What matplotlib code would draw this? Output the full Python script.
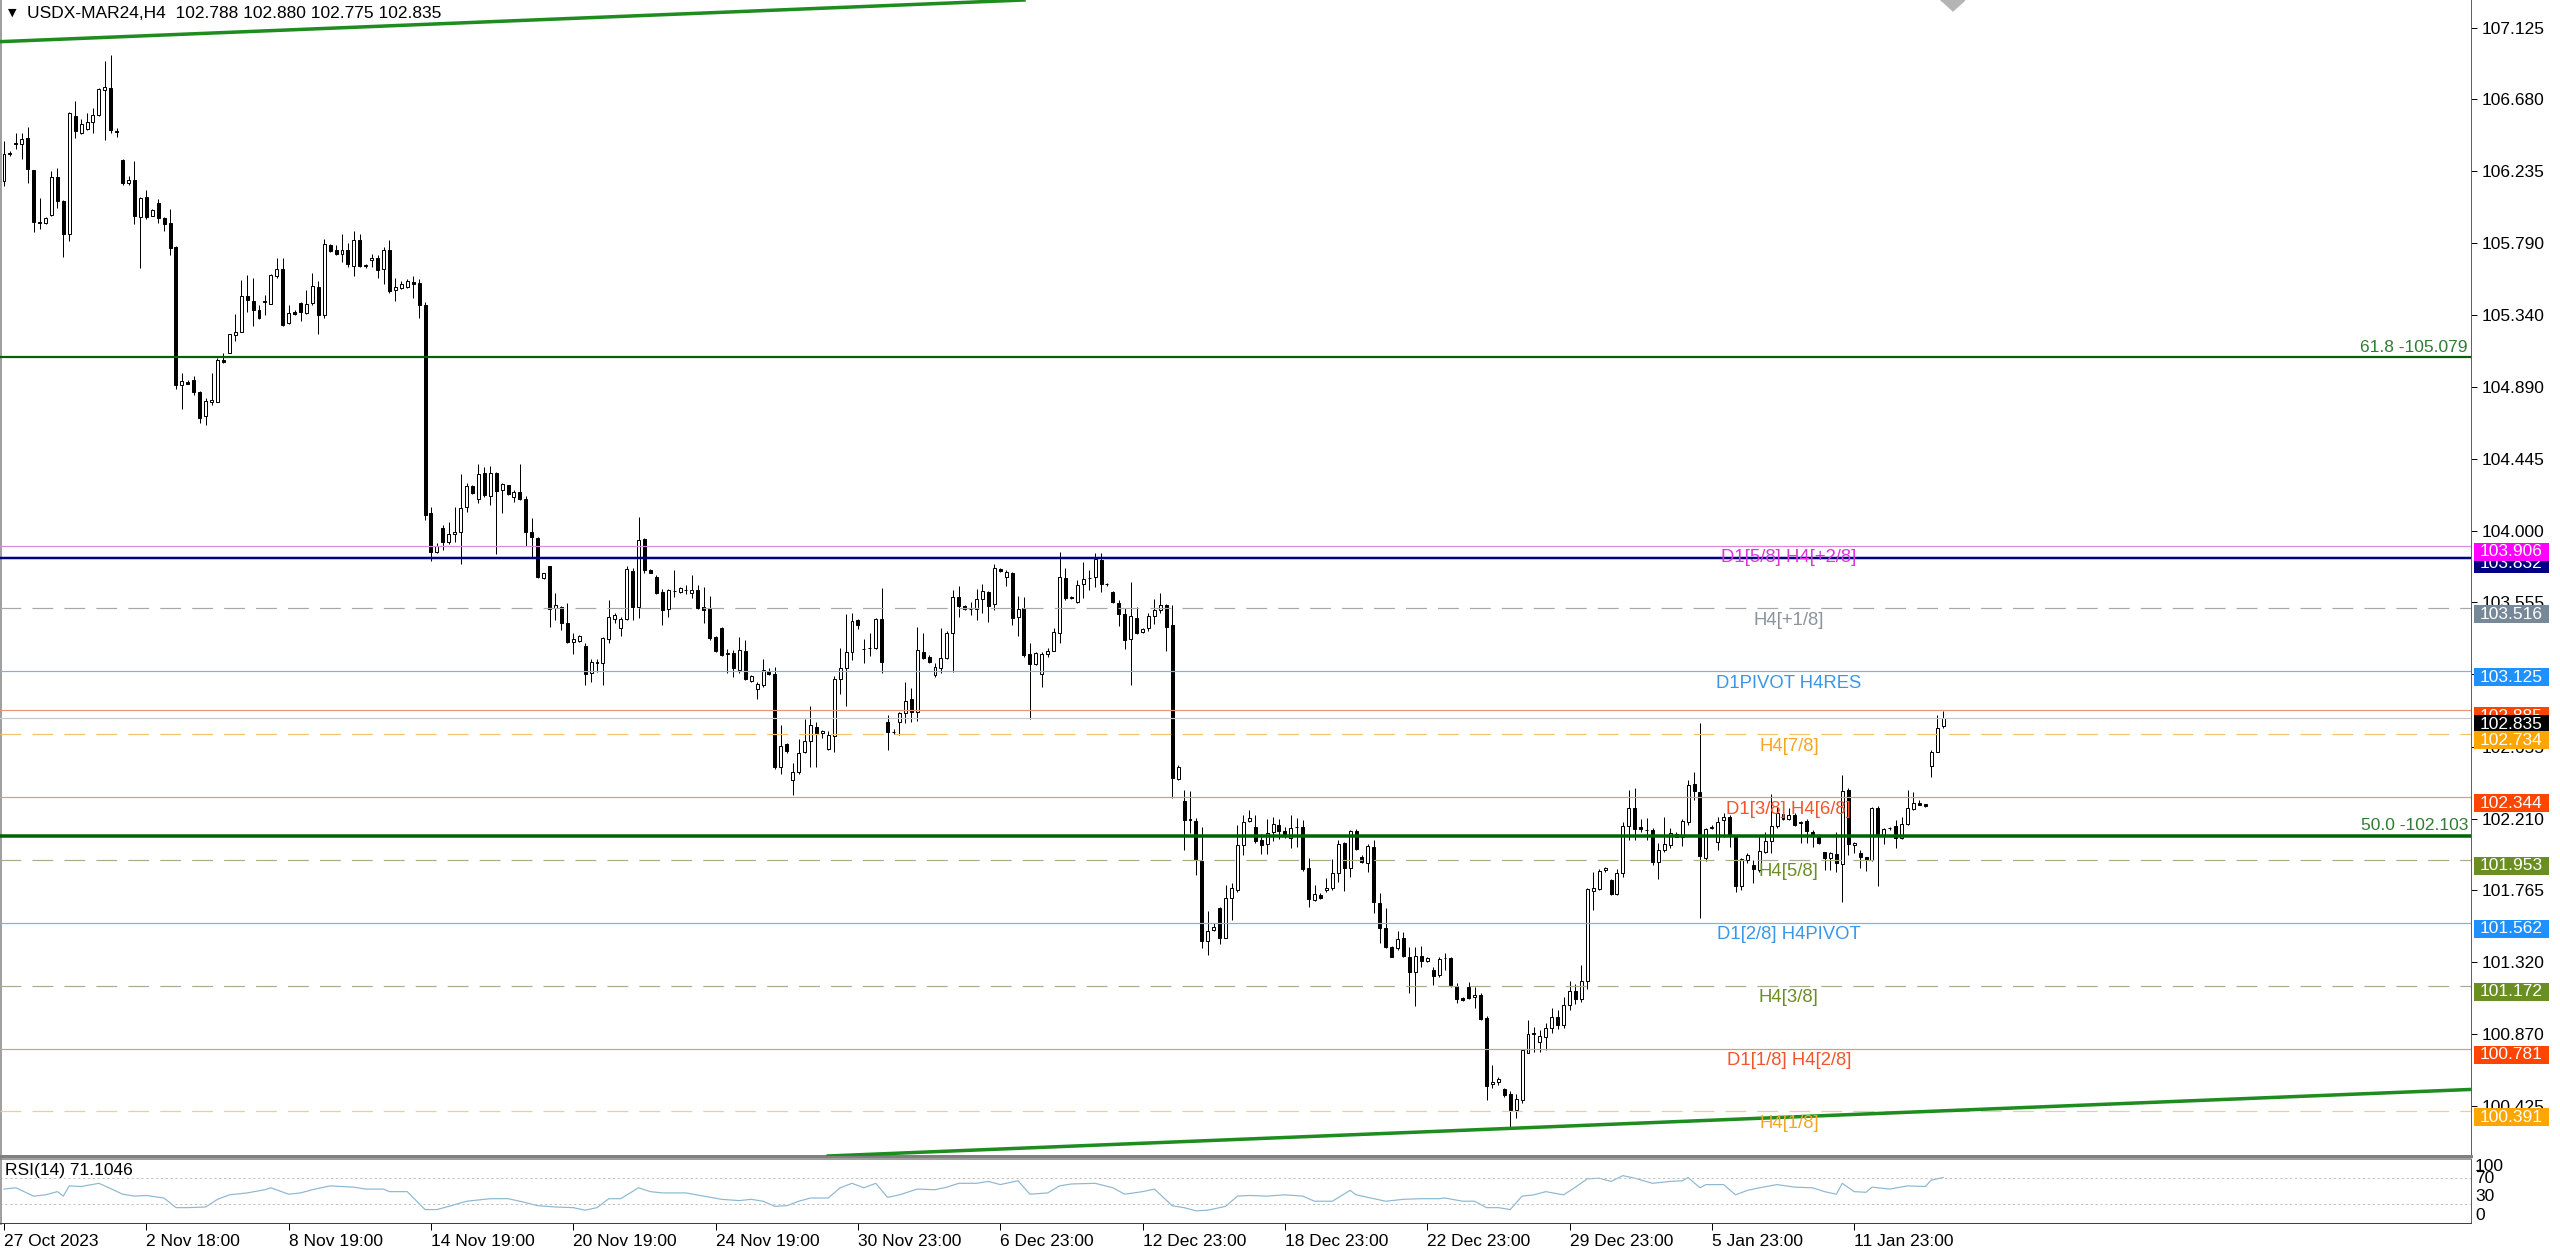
import numpy as np
import matplotlib
matplotlib.use("Agg")
import matplotlib.pyplot as plt
from matplotlib.transforms import blended_transform_factory, IdentityTransform, ScaledTranslation

plt.rcParams['font.family'] = ['Liberation Sans', 'DejaVu Sans']
plt.rcParams['lines.scale_dashes'] = False

# ------------------------------------------------------------------ data
symbol = "USDX-MAR24,H4"

opens = [
106.17,106.34,106.41,106.40,106.44,106.24,105.92,105.91,105.96,106.20,
106.05,105.845,106.58,106.471,106.499,106.540,106.582,106.739,106.754,106.486,
106.306,106.161,106.182,105.947,106.071,105.958,106.039,105.94,105.91,105.761,
104.903,104.924,104.935,104.862,104.71,104.802,104.802,105.059,105.106,105.213,
105.236,105.459,105.427,105.373,105.427,105.41,105.583,105.626,105.288,105.358,
105.412,105.352,105.412,105.515,105.343,105.776,105.744,105.722,105.744,105.647,
105.808,105.654,105.679,105.697,105.626,105.744,105.495,105.508,105.512,105.545,
105.54,105.401,104.107,103.865,104.014,103.931,103.979,103.989,104.145,104.277,
104.197,104.356,104.217,104.356,104.252,104.284,104.211,104.238,104.197,103.989,
103.956,103.704,103.781,103.517,103.528,103.424,103.306,103.317,103.285,103.113,
103.185,103.179,103.324,103.451,103.393,103.451,103.749,103.527,103.946,103.755,
103.714,103.621,103.513,103.627,103.621,103.632,103.61,103.631,103.527,103.517,
103.341,103.393,103.235,103.237,103.134,103.254,103.067,103.014,103.041,103.13,
103.109,102.529,102.674,102.45,102.502,102.626,102.695,102.782,102.74,102.643,
102.726,103.076,103.144,103.248,103.444,103.262,103.273,103.273,103.449,102.813,
102.75,102.809,102.864,102.954,102.875,103.248,103.217,103.103,103.148,103.206,
103.362,103.586,103.531,103.513,103.511,103.573,103.621,103.542,103.762,103.714,
103.739,103.461,103.517,103.233,103.171,103.109,103.233,103.254,103.362,103.704,
103.579,103.554,103.666,103.704,103.71,103.817,103.666,103.617,103.552,103.482,
103.324,103.459,103.368,103.393,103.471,103.507,103.538,103.413,102.456,102.322,
102.21,102.195,101.947,101.451,101.518,101.653,101.47,101.715,101.766,102.046,
102.197,102.156,102.077,102.052,102.129,102.17,102.135,102.087,102.156,102.16,
101.901,101.704,101.735,101.766,101.776,101.87,102.056,101.901,102.135,101.969,
101.936,102.031,101.683,101.528,101.414,101.408,101.47,101.352,101.254,101.358,
101.327,101.269,101.238,101.346,101.346,101.171,101.093,101.165,101.099,101.113,
100.973,100.558,100.571,100.527,100.50,100.40,100.46,100.755,100.875,100.824,
100.854,100.91,100.98,100.93,101.05,101.14,101.09,101.20,101.76,101.77,
101.891,101.828,101.741,101.874,102.164,102.278,102.156,102.139,102.139,101.942,
102.015,102.046,102.098,102.093,102.191,102.425,102.377,101.963,102.149,102.067,
102.201,102.218,102.102,101.791,101.953,101.922,101.89,102.004,102.071,102.166,
102.237,102.205,102.232,102.181,102.197,102.129,102.108,102.0,101.963,101.99,
101.928,102.388,102.046,101.994,101.969,101.953,102.278,102.108,102.154,102.164,
102.091,102.174,102.268,102.309,102.299,102.54,102.626,102.788]

highs = [
106.42,106.36,106.47,106.47,106.51,106.24,106.07,105.95,106.236,106.253,
106.055,106.60,106.668,106.557,106.595,106.625,106.749,106.921,106.959,106.50,
106.311,106.204,106.30,106.075,106.118,106.0,106.06,105.947,106.0,105.769,
104.978,104.935,104.963,104.866,104.823,104.978,105.07,105.102,105.224,105.348,
105.555,105.587,105.572,105.401,105.465,105.594,105.694,105.697,105.401,105.373,
105.423,105.497,105.604,105.551,105.812,105.782,105.776,105.846,105.786,105.861,
105.844,105.658,105.718,105.712,105.765,105.804,105.572,105.551,105.562,105.583,
105.562,105.423,104.145,103.921,104.035,104.056,104.145,104.35,104.294,104.284,
104.412,104.397,104.401,104.362,104.298,104.284,104.252,104.412,104.215,104.08,
103.958,103.739,103.783,103.61,103.534,103.552,103.362,103.352,103.304,103.202,
103.20,103.337,103.569,103.49,103.465,103.781,103.766,104.087,103.952,103.76,
103.724,103.635,103.635,103.755,103.652,103.662,103.724,103.662,103.648,103.594,
103.345,103.403,103.262,103.258,103.341,103.32,103.103,103.061,103.20,103.144,
103.154,102.792,102.682,102.554,102.703,102.828,102.91,102.813,102.761,102.757,
103.099,103.272,103.482,103.49,103.45,103.324,103.362,103.455,103.645,102.854,
102.765,102.875,103.057,103.02,103.399,103.366,103.227,103.175,103.393,103.376,
103.631,103.658,103.538,103.558,103.635,103.666,103.627,103.793,103.766,103.755,
103.745,103.594,103.589,103.304,103.248,103.248,103.268,103.393,103.869,103.766,
103.594,103.693,103.807,103.755,103.859,103.859,103.677,103.625,103.569,103.517,
103.678,103.523,103.397,103.486,103.573,103.614,103.544,103.538,102.543,102.388,
102.384,102.212,102.16,101.636,101.559,101.663,101.797,101.808,102.17,102.232,
102.264,102.232,102.114,102.206,102.218,102.206,102.16,102.232,102.212,102.201,
101.963,101.797,101.749,101.839,101.957,102.077,102.066,102.139,102.143,101.984,
102.05,102.077,101.745,101.656,101.42,101.513,101.507,101.414,101.414,101.42,
101.352,101.29,101.352,101.377,101.352,101.186,101.103,101.196,101.165,101.124,
100.983,100.678,100.606,100.533,100.52,100.50,100.78,100.958,100.917,100.896,
100.937,101.03,101.02,101.10,101.20,101.18,101.30,101.78,101.88,101.895,
101.911,101.832,101.895,102.191,102.388,102.402,102.205,102.212,102.15,102.06,
102.222,102.149,102.129,102.205,102.45,102.502,102.802,102.149,102.17,102.222,
102.243,102.232,102.108,101.963,101.994,101.953,102.102,102.129,102.363,102.284,
102.253,102.274,102.243,102.197,102.205,102.139,102.114,102.004,102.004,102.129,
102.481,102.398,102.067,102.015,101.973,102.284,102.288,102.149,102.16,102.201,
102.218,102.388,102.377,102.325,102.301,102.636,102.854,102.880]

lows = [
106.14,106.33,106.37,106.31,106.16,105.855,105.876,105.905,105.958,106.005,
105.70,105.797,106.443,106.467,106.488,106.471,106.574,106.428,106.471,106.445,
106.15,106.15,105.904,105.632,105.936,105.953,105.915,105.861,105.712,104.881,
104.755,104.909,104.845,104.667,104.659,104.781,104.798,105.044,105.102,105.177,
105.234,105.358,105.269,105.316,105.343,105.408,105.572,105.273,105.284,105.343,
105.305,105.348,105.401,105.219,105.32,105.733,105.712,105.669,105.637,105.583,
105.637,105.632,105.637,105.572,105.53,105.476,105.427,105.504,105.508,105.444,
105.32,104.068,103.813,103.859,103.88,103.917,103.931,103.793,104.118,104.228,
104.17,104.211,104.16,103.855,104.112,104.221,104.18,104.19,103.904,103.838,
103.704,103.70,103.403,103.445,103.383,103.304,103.231,103.31,103.041,103.062,
103.119,103.041,103.30,103.424,103.347,103.445,103.445,103.455,103.739,103.735,
103.606,103.414,103.465,103.59,103.615,103.606,103.579,103.513,103.424,103.321,
103.244,103.221,103.113,103.092,103.113,103.071,103.061,102.952,103.03,103.103,
102.518,102.487,102.616,102.357,102.487,102.616,102.533,102.529,102.709,102.637,
102.626,102.985,102.91,103.196,103.387,103.175,103.221,103.262,103.113,102.637,
102.736,102.73,102.802,102.813,102.817,103.20,103.175,103.092,103.113,103.20,
103.123,103.465,103.507,103.476,103.445,103.486,103.43,103.507,103.745,103.656,
103.413,103.347,103.217,102.827,103.165,103.03,103.217,103.254,103.304,103.569,
103.575,103.552,103.579,103.631,103.652,103.621,103.658,103.548,103.407,103.262,
103.041,103.358,103.362,103.376,103.418,103.486,103.254,102.336,102.45,102.015,
102.118,101.86,101.404,101.362,101.514,101.431,101.466,101.58,101.756,101.984,
102.191,102.057,101.99,101.99,102.073,102.081,102.087,102.025,102.036,101.886,
101.662,101.70,101.708,101.756,101.766,101.818,101.762,101.849,102.015,101.932,
101.88,101.621,101.435,101.403,101.348,101.393,101.352,101.124,101.045,101.285,
101.321,101.176,101.227,101.269,101.165,101.066,101.076,101.087,101.031,100.958,
100.461,100.533,100.554,100.482,100.29,100.35,100.44,100.751,100.761,100.761,
100.772,100.88,100.90,100.91,101.02,101.06,101.07,101.15,101.642,101.766,
101.88,101.735,101.735,101.849,102.077,102.077,102.129,102.077,101.922,101.834,
102.004,102.025,102.093,102.042,102.17,102.325,101.59,101.948,102.145,102.015,
102.098,102.036,101.756,101.766,101.932,101.808,101.88,101.994,101.998,102.149,
102.201,102.201,102.164,102.056,102.056,102.036,102.052,101.89,101.89,101.88,
101.694,101.984,101.994,101.901,101.886,101.946,101.791,102.052,102.139,102.025,
102.081,102.17,102.263,102.293,102.284,102.466,102.622,102.775]

closes = [
106.34,106.35,106.40,106.435,106.25,105.92,105.91,105.94,106.197,106.05,
105.845,106.593,106.486,106.529,106.542,106.582,106.743,106.756,106.493,106.48,
106.161,106.182,105.953,106.069,105.951,105.99,105.94,105.908,105.754,104.903,
104.931,104.913,104.86,104.701,104.806,104.813,105.063,105.048,105.219,105.236,
105.459,105.433,105.373,105.32,105.418,105.59,105.626,105.277,105.352,105.348,
105.358,105.41,105.519,105.341,105.782,105.737,105.722,105.744,105.658,105.804,
105.647,105.645,105.692,105.62,105.744,105.491,105.517,105.53,105.551,105.534,
105.401,104.10,103.869,103.904,103.927,103.977,103.989,104.143,104.279,104.236,
104.35,104.221,104.36,104.248,104.29,104.228,104.242,104.194,103.993,103.958,
103.71,103.735,103.513,103.538,103.428,103.306,103.326,103.346,103.109,103.181,
103.175,103.331,103.461,103.476,103.449,103.76,103.527,103.942,103.755,103.739,
103.61,103.507,103.631,103.627,103.642,103.632,103.631,103.517,103.507,103.331,
103.252,103.227,103.237,103.144,103.258,103.076,103.096,103.047,103.134,103.109,
102.533,102.661,102.632,102.502,102.62,102.695,102.792,102.74,102.755,102.73,
103.078,103.148,103.248,103.438,103.413,103.262,103.273,103.451,103.186,102.75,
102.75,102.864,102.943,102.875,103.258,103.21,103.186,103.155,103.206,103.366,
103.59,103.534,103.513,103.513,103.575,103.625,103.534,103.77,103.751,103.741,
103.455,103.511,103.227,103.171,103.237,103.233,103.252,103.372,103.71,103.583,
103.589,103.662,103.699,103.704,103.822,103.666,103.666,103.558,103.482,103.32,
103.471,103.362,103.389,103.471,103.507,103.538,103.403,102.464,102.533,102.201,
102.201,101.953,101.451,101.514,101.539,101.47,101.715,101.777,102.046,102.191,
102.216,102.073,102.046,102.118,102.174,102.135,102.108,102.149,102.156,101.894,
101.708,101.739,101.714,101.781,101.87,102.052,101.901,102.133,102.019,101.938,
102.04,101.69,101.528,101.414,101.352,101.46,101.358,101.258,101.358,101.325,
101.346,101.232,101.337,101.346,101.176,101.089,101.082,101.093,101.113,100.962,
100.548,100.57,100.589,100.492,100.40,100.47,100.77,100.869,100.869,100.859,
100.91,100.98,100.93,101.05,101.14,101.09,101.20,101.77,101.776,101.886,
101.901,101.741,101.874,102.164,102.278,102.143,102.145,102.139,101.938,102.015,
102.052,102.118,102.112,102.195,102.419,102.383,101.978,102.143,102.16,102.191,
102.218,102.102,101.791,101.957,101.984,101.895,102.011,102.073,102.166,102.243,
102.207,102.232,102.17,102.191,102.135,102.108,102.056,101.963,101.994,101.932,
102.383,102.052,102.056,101.969,101.953,102.274,102.102,102.143,102.154,102.091,
102.174,102.274,102.309,102.297,102.288,102.626,102.771,102.835]

# RSI(14) readings: bar index -> value
rsi_bars = [
0,2,5,7,9,10,11,13,16,17, 20,22,24,27,29,31,34,36,38,41,
44,45,48,50,52,55,57,59,61,64, 65,68,71,73,75,78,82,85,87,90,
93,96,98,100,102,104,107,109,111,115, 118,121,124,126,128,130,132,134,136,139,
141,143,145,147,149,151,154,157,159,161, 164,166,168,171,173,176,178,180,184,187,
189,192,194,197,199,201,203,206,208,210, 213,216,
219,221,224,227,228,231,233,236,239,242, 243,246,248,250,252,254,256,258,260,263,
265,267,269,271,273,275,278,281,283,284, 286,287,290,292,294,296,299,302,305,307,
309,310,312,314,315,318,321,324,325,327]
rsi_vals = [
53,55,42,44,49,42,58,57,62,58, 45,42,43,39,24,24,25,37,44,47,
52,55,45,47,52,58,57,56,53,53, 49,49,21,21,26,34,38,38,34,27,
25,24,20,24,38,38,55,49,47,47, 42,37,35,37,34,26,27,34,39,39,
55,62,55,62,40,44,53,52,56,62, 62,65,60,66,45,47,58,61,62,55,
45,49,53,27,24,19,20,26,42,43, 42,44,
42,34,34,51,44,38,34,37,38,38, 39,34,34,24,24,21,42,44,49,44,
56,69,70,65,74,70,62,65,66,71, 55,60,60,44,51,55,60,56,55,49,
45,62,49,48,56,53,58,57,67,71.1]
rsi_last = 71.1046

price_ticks = [107.125, 106.680, 106.235, 105.790, 105.340, 104.890, 104.445, 104.000,
               103.555, 103.110, 102.655, 102.210, 101.765, 101.320, 100.870, 100.425]

time_tick_bars = [0, 24, 48, 72, 96, 120, 144, 168, 192, 216, 240, 264, 288, 312]
time_tick_labels = ["27 Oct 2023", "2 Nov 18:00", "8 Nov 19:00", "14 Nov 19:00", "20 Nov 19:00",
                    "24 Nov 19:00", "30 Nov 23:00", "6 Dec 23:00", "12 Dec 23:00", "18 Dec 23:00",
                    "22 Dec 23:00", "29 Dec 23:00", "5 Jan 23:00", "11 Jan 23:00"]

pivot_levels = [103.906, 103.516, 103.125, 102.734, 102.344, 101.953, 101.562, 101.172, 100.781, 100.391]
pivot_names = ["D1[5/8] H4[+2/8]", "H4[+1/8]", "D1PIVOT H4RES", "H4[7/8]", "D1[3/8] H4[6/8]",
               "H4[5/8]", "D1[2/8] H4PIVOT", "H4[3/8]", "D1[1/8] H4[2/8]", "H4[1/8]"]
label_bar = 301

fib_levels = [105.079, 102.103]
fib_names = ["61.8", "50.0"]

navy_level = 103.832
upper_level = 102.885
bid_price = 102.835

trend_top = [(0, 107.04), (160, 107.28)]
trend_bottom = [(143, 100.119), (372, 100.461)]
shift_marker_bar = 328.5

# ------------------------------------------------------------------ styles
W, H, DPI = 2560, 1250, 100
PT = 72.0 / DPI
PLOT_RIGHT = 2471
MAIN_BOTTOM = 1156
RSI_TOP = 1159
RSI_BOTTOM = 1223
FS = 12.5
FS_CAPTION = 13.3

pivot_dashed = [False, True, False, True, False, True, False, True, False, True]
pivot_line_colors = ['#DD88DD', '#A8A8A8', '#78B4E8', '#F2C46A', '#E8957A',
                     '#A9AC8E', '#78B4E8', '#A9AC8E', '#E8957A', '#EDD27A']
pivot_text_colors = ['#E033E0', '#8C939B', '#3A97E8', '#F5A623', '#F2552C',
                     '#6B8E23', '#3A97E8', '#6B8E23', '#F2552C', '#F5A623']
pivot_box_colors = ['#FF00FF', '#778899', '#1E90FF', '#FFA500', '#FF4500',
                    '#6B8E23', '#1E90FF', '#6B8E23', '#FF4500', '#FFA500']

O = np.array(opens); Hh = np.array(highs); L = np.array(lows); C = np.array(closes)
n = len(C)
x = np.arange(n)

fig = plt.figure(figsize=(W / DPI, H / DPI), dpi=DPI)
fig.patch.set_facecolor('white')
ax = fig.add_axes([0, 1 - MAIN_BOTTOM / H, PLOT_RIGHT / W, MAIN_BOTTOM / H])
axr = fig.add_axes([0, 1 - RSI_BOTTOM / H, PLOT_RIGHT / W, (RSI_BOTTOM - RSI_TOP) / H])

bar_px = 5.93
xmin = -4 / bar_px
xmax = xmin + PLOT_RIGHT / bar_px
ax.set_xlim(xmin, xmax)
axr.set_xlim(xmin, xmax)
ax.set_ylim(100.113, 107.298)
axr.set_ylim(0, 100)

# ---- candles
up = C >= O
ax.vlines(x, L, Hh, color='black', lw=1 * PT, zorder=2)
bottom = np.minimum(O, C)
height = np.abs(C - O)
ax.bar(x[up], height[up], 0.5, bottom[up], facecolor='white', edgecolor='black',
       linewidth=1 * PT, zorder=3)
ax.bar(x[~up], height[~up], 0.5, bottom[~up], facecolor='black', edgecolor='black',
       linewidth=1 * PT, zorder=3)

# ---- horizontal levels
dash = (0, (15, 8))
for p, col, dsh in zip(pivot_levels, pivot_line_colors, pivot_dashed):
    ax.axhline(p, color=col, lw=1.2 * PT, ls=dash if dsh else '-', zorder=4)
ax.axhline(navy_level, color='#000080', lw=2.5 * PT, zorder=4)
ax.axhline(upper_level, color='#E8957A', lw=1.2 * PT, zorder=4)
ax.axhline(bid_price, color='#C8C8C8', lw=1.2 * PT, zorder=4)
ax.axhline(fib_levels[0], color='#006400', lw=2.2 * PT, zorder=4)
ax.axhline(fib_levels[1], color='#006400', lw=3.5 * PT, zorder=4)

# ---- trend lines
for pts in (trend_top, trend_bottom):
    ax.axline(pts[0], pts[1], color='#1E8C1E', lw=3.5 * PT, zorder=4)

# ---- level captions
for p, name, col in zip(pivot_levels, pivot_names, pivot_text_colors):
    ax.annotate(name, xy=(label_bar, p), xytext=(0, -12), textcoords='offset pixels',
                ha='center', va='center', color=col, fontsize=FS_CAPTION, zorder=5)
yblend = blended_transform_factory(ax.transAxes, ax.transData)
for p, name in zip(fib_levels, fib_names):
    ax.annotate(f"{name} -{p:.3f}", xy=(1.0, p), xycoords=yblend, xytext=(-3, 10),
                textcoords='offset pixels', ha='right', va='center', color='#2E7D32',
                fontsize=FS, zorder=5)

# ---- chart shift marker (grey triangle hanging from the top edge)
ax.plot([shift_marker_bar], [1.0], marker=[(-1, 0), (1, 0), (0, -0.9)], ms=24 * PT,
        color='#B4B4B4', mec='#B4B4B4',
        transform=blended_transform_factory(ax.transData, ax.transAxes), clip_on=False, zorder=6)

# ---- price axis
ax.yaxis.tick_right()
ax.set_yticks(price_ticks)
ax.set_yticklabels([f"{v:.3f}" for v in price_ticks])
ax.tick_params(axis='y', length=4, width=1 * PT, pad=4, labelsize=FS, colors='black')
ax.set_xticks([])

# ---- price boxes
box_tr = blended_transform_factory(IdentityTransform(), ax.transData) + \
    ScaledTranslation(0, -6 / DPI, fig.dpi_scale_trans)
box_levels = [navy_level, pivot_levels[0], pivot_levels[1], pivot_levels[2], upper_level, bid_price,
              pivot_levels[3], pivot_levels[4], pivot_levels[5], pivot_levels[6], pivot_levels[7],
              pivot_levels[8], pivot_levels[9]]
box_colors = ['#000080', pivot_box_colors[0], pivot_box_colors[1], pivot_box_colors[2], '#FF4500',
              '#000000'] + pivot_box_colors[3:]
for k, (p, col) in enumerate(zip(box_levels, box_colors)):
    ax.plot([PLOT_RIGHT + 3, PLOT_RIGHT + 78], [p, p], transform=box_tr, color=col,
            lw=18 * PT, solid_capstyle='butt', clip_on=False, zorder=10 + 2 * k)
    ax.text(PLOT_RIGHT + 9, p, f"{p:.3f}", transform=box_tr, color='white', ha='left',
            va='center', fontsize=FS, clip_on=False, zorder=11 + 2 * k)

# ---- spines main
ax.spines['top'].set_visible(False)
ax.spines['left'].set_color('#A0A0A0'); ax.spines['left'].set_linewidth(3 * PT)
ax.spines['right'].set_color('#606060'); ax.spines['right'].set_linewidth(1 * PT)
ax.spines['bottom'].set_color('#808080'); ax.spines['bottom'].set_linewidth(3 * PT)

# ---- RSI panel
axr.plot(rsi_bars, rsi_vals, color='#8DB8D2', lw=1.2 * PT)
for lv in (70, 30):
    axr.axhline(lv, color='#C0C0C0', lw=1 * PT, ls=(0, (1.5, 2)))
axr.set_yticks([])
axr.set_xticks(time_tick_bars)
axr.set_xticklabels(time_tick_labels)
for lbl in axr.get_xticklabels():
    lbl.set_horizontalalignment('left')
axr.tick_params(axis='x', length=5, width=1 * PT, pad=3, labelsize=FS, colors='black')
axr.spines['top'].set_color('#808080'); axr.spines['top'].set_linewidth(1.5 * PT)
axr.spines['left'].set_color('#A0A0A0'); axr.spines['left'].set_linewidth(3 * PT)
axr.spines['right'].set_color('#606060'); axr.spines['right'].set_linewidth(1 * PT)
axr.spines['bottom'].set_color('#404040'); axr.spines['bottom'].set_linewidth(1 * PT)
rblend = blended_transform_factory(axr.transAxes, axr.transData)
for v, va in ((100, 'top'), (70, 'center'), (30, 'bottom'), (0, 'bottom')):
    axr.annotate(str(v), xy=(1.0, v), xycoords=rblend, xytext=(4, 0), textcoords='offset pixels',
                 ha='left', va=va, fontsize=FS, annotation_clip=False)
fig.text(5 / W, 1 - 1171 / H, f"RSI(14) {rsi_last:.4f}", fontsize=FS, va='center', ha='left')

# ---- title
fig.text(8 / W, 1 - 13 / H, "\u25BC", fontsize=8, va='center', ha='left', family='DejaVu Sans')
fig.text(27 / W, 1 - 13 / H,
         f"{symbol}  {opens[-1]:.3f} {highs[-1]:.3f} {lows[-1]:.3f} {closes[-1]:.3f}",
         fontsize=FS, va='center', ha='left')

fig.savefig("out.png", dpi=DPI, facecolor='white')
